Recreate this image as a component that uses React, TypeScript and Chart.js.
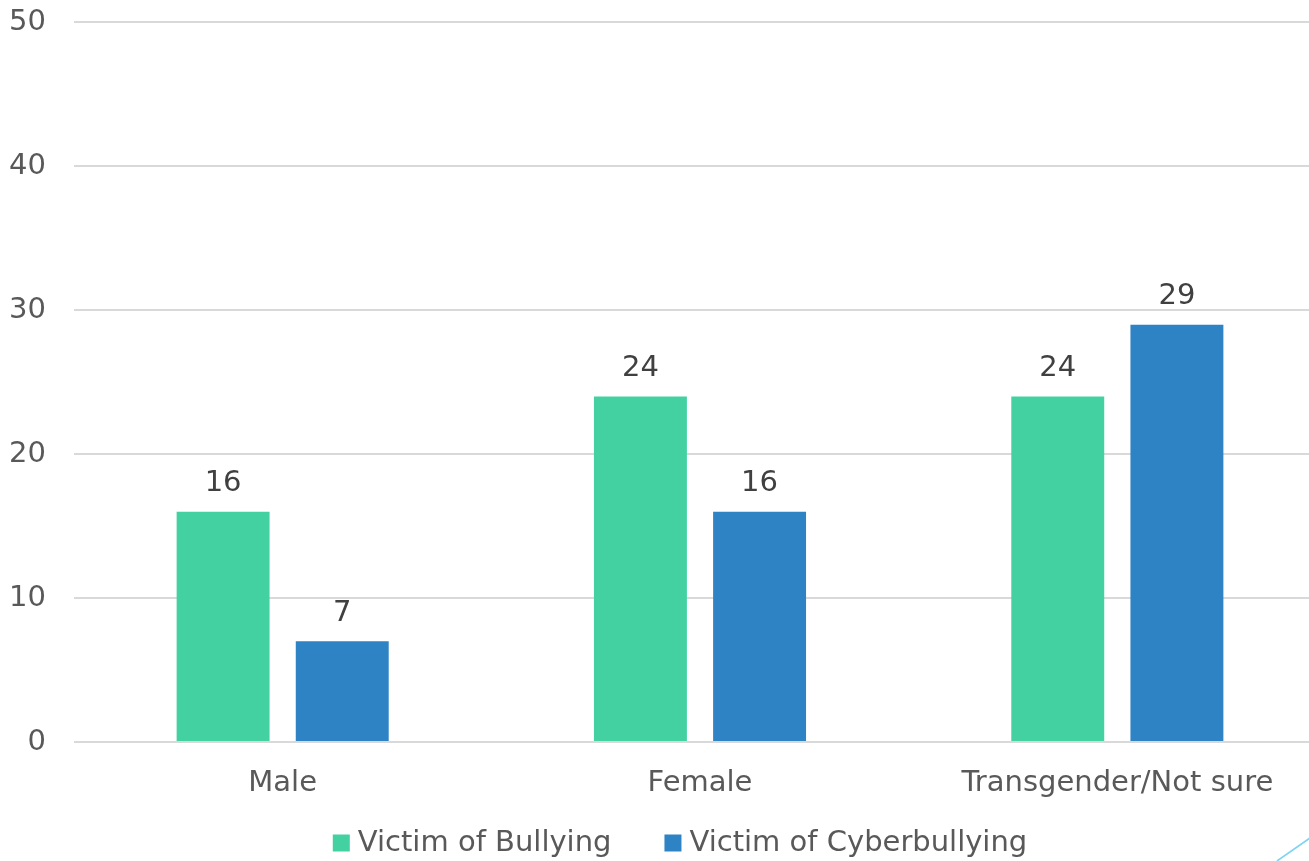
import React, { useEffect, useRef } from "react";
import { Chart, registerables } from "chart.js";

Chart.register(...registerables);

const categories = ["Male", "Female", "Transgender/Not sure"];
const bullying = [16, 24, 24];
const cyberbullying = [7, 16, 29];
const seriesNames = ["Victim of Bullying", "Victim of Cyberbullying"];
const seriesColors = ["#43D1A2", "#2E83C4"];
const yTicks = [0, 10, 20, 30, 40, 50];

const FONT = "'DejaVu Sans', sans-serif";
const FS = 29;
const W = 1360;
const SHIFT = 23;
const H = 861 + SHIFT;

const valueLabels = {
  id: "valueLabels",
  afterDatasetsDraw(chart: any) {
    const ctx = chart.ctx;
    ctx.save();
    ctx.font = `${FS}px ${FONT}`;
    ctx.fillStyle = "#404040";
    ctx.textAlign = "center";
    ctx.textBaseline = "middle";
    chart.data.datasets.forEach((ds: any, i: number) => {
      const meta = chart.getDatasetMeta(i);
      meta.data.forEach((el: any, j: number) => {
        ctx.fillText(String(ds.data[j]), el.x, el.y - 28);
      });
    });
    ctx.restore();
  },
};

const customLegend = {
  id: "customLegend",
  afterDraw(chart: any) {
    const ctx = chart.ctx;
    ctx.save();
    ctx.font = `${FS}px ${FONT}`;
    ctx.textBaseline = "middle";
    ctx.textAlign = "left";
    const box = 17;
    const gapText = 8;
    const gapItem = 53;
    const items = chart.data.datasets.map((ds: any) => ({
      label: ds.label,
      color: ds.backgroundColor,
      w: ctx.measureText(ds.label).width,
    }));
    const total =
      items.reduce((a: number, it: any) => a + box + gapText + it.w, 0) +
      gapItem * (items.length - 1);
    let x = chart.width / 2 - total / 2;
    const cy = chart.height - 18;
    items.forEach((it: any) => {
      ctx.fillStyle = it.color;
      ctx.fillRect(x, cy - box / 2, box, box);
      x += box + gapText;
      ctx.fillStyle = "#595959";
      ctx.fillText(it.label, x, cy);
      x += it.w + gapItem;
    });
    ctx.restore();
  },
};

const cornerLine = {
  id: "cornerLine",
  afterDraw(chart: any) {
    const ctx = chart.ctx;
    ctx.save();
    ctx.strokeStyle = "#7FD3F4";
    ctx.lineWidth = 1.6;
    ctx.beginPath();
    ctx.moveTo(1277, chart.height);
    ctx.lineTo(1310, chart.height - 23);
    ctx.stroke();
    ctx.restore();
  },
};

export default function App() {
  const ref = useRef<HTMLCanvasElement>(null);
  useEffect(() => {
    if (!ref.current) return;
    const chart = new Chart(ref.current, {
      type: "bar",
      data: {
        labels: categories,
        datasets: [
          {
            label: seriesNames[0],
            data: bullying,
            backgroundColor: seriesColors[0],
            categoryPercentage: 0.571,
            barPercentage: 0.78,
          },
          {
            label: seriesNames[1],
            data: cyberbullying,
            backgroundColor: seriesColors[1],
            categoryPercentage: 0.571,
            barPercentage: 0.78,
          },
        ],
      },
      options: {
        responsive: false,
        animation: false,
        layout: { padding: { top: 0, bottom: 39, left: 0, right: 0 } },
        plugins: {
          legend: { display: false },
          tooltip: { enabled: false },
        },
        scales: {
          x: {
            grid: { display: false, drawTicks: false },
            border: { display: false },
            ticks: {
              font: { family: FONT, size: FS },
              color: "#595959",
              padding: 24,
              maxRotation: 0,
            },
            afterFit: (s: any) => {
              s.height = 80;
            },
          },
          y: {
            min: 0,
            max: 50,
            afterBuildTicks: (s: any) => {
              s.ticks = yTicks.map((v) => ({ value: v }));
            },
            grid: { color: "#D9D9D9", lineWidth: 2, drawTicks: false },
            border: { display: false },
            ticks: {
              font: { family: FONT, size: FS },
              color: "#595959",
              padding: 28,
            },
            afterFit: (s: any) => {
              s.width = 74;
            },
          },
          y2: {
            position: "right",
            min: 0,
            max: 50,
            grid: { display: false, drawTicks: false },
            border: { display: false },
            ticks: { display: false },
            afterFit: (s: any) => {
              s.width = 34;
            },
          },
        },
      },
      plugins: [valueLabels, customLegend, cornerLine],
    });
    return () => chart.destroy();
  }, []);
  return (
    <div style={{ position: "fixed", left: 0, top: 0, right: 0, bottom: 0, overflow: "hidden", background: "#fff" }}>
      <canvas
        ref={ref}
        width={W}
        height={H}
        style={{ display: "block", position: "absolute", left: 0, top: -SHIFT }}
      />
    </div>
  );
}
